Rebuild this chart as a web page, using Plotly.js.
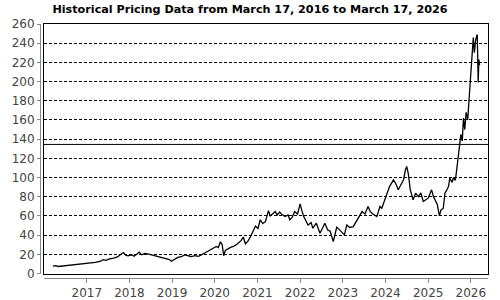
<!DOCTYPE html>
<html>
<head>
<meta charset="utf-8">
<script src="https://cdn.plot.ly/plotly-3.0.1.min.js"></script>
<style>html,body{margin:0;padding:0;background:#fff;}#chart{width:500px;height:300px;}</style>
</head>
<body>
<div id="chart"></div>
<script>
const chartTitle = "Historical Pricing Data from March 17, 2016 to March 17, 2026";

const dates = [
"2016-03-17","2016-04-10","2016-05-01","2016-06-15","2016-08-01","2016-09-15","2016-11-01","2016-12-15",
"2017-02-01","2017-03-15","2017-05-01","2017-05-20","2017-06-15","2017-07-15","2017-08-20","2017-09-20","2017-10-15","2017-11-10","2017-12-01","2017-12-20",
"2018-01-20","2018-02-10","2018-03-10","2018-03-25","2018-04-15","2018-05-15","2018-06-15","2018-07-15","2018-08-15","2018-09-15","2018-10-15","2018-11-15","2018-12-10","2018-12-26",
"2019-01-20","2019-02-20","2019-03-20","2019-04-20","2019-05-20","2019-06-15","2019-07-15","2019-08-15","2019-09-15","2019-10-15","2019-11-15","2019-12-15",
"2020-01-15","2020-02-01","2020-02-19","2020-03-05","2020-03-18","2020-04-01","2020-04-20","2020-05-20","2020-06-15","2020-07-15","2020-08-15","2020-09-01","2020-09-20","2020-10-10","2020-11-01","2020-11-25","2020-12-15",
"2021-01-05","2021-01-25","2021-02-15","2021-03-10","2021-04-05","2021-04-20","2021-05-10","2021-06-01","2021-06-20","2021-07-10","2021-07-25","2021-08-25","2021-09-20","2021-10-05","2021-10-25","2021-11-15","2021-12-10",
"2022-01-01","2022-01-15","2022-02-01","2022-03-10","2022-04-05","2022-04-20","2022-05-20","2022-06-20","2022-07-15","2022-08-01","2022-08-25","2022-09-15","2022-10-12","2022-10-25","2022-11-10","2022-12-01","2022-12-28",
"2023-01-15","2023-02-05","2023-03-01","2023-04-01","2023-04-25","2023-05-25","2023-06-15","2023-07-10","2023-08-05","2023-08-25","2023-09-15","2023-10-20","2023-11-15","2023-12-01","2023-12-28",
"2024-01-20","2024-02-05","2024-03-10","2024-04-01","2024-04-20","2024-05-20","2024-06-05","2024-06-20","2024-07-01","2024-07-15","2024-08-01","2024-08-25","2024-09-15","2024-10-10","2024-10-30","2024-11-20","2024-12-15",
"2025-01-01","2025-01-30","2025-02-15","2025-03-01","2025-03-20","2025-04-07","2025-04-20","2025-05-10","2025-05-25","2025-06-10","2025-06-25","2025-07-05","2025-07-25","2025-08-05","2025-08-20","2025-08-28","2025-09-10","2025-09-25","2025-10-08","2025-10-20","2025-10-30","2025-11-10","2025-11-22","2025-12-05","2025-12-19",
"2026-01-01","2026-01-09","2026-01-22","2026-01-31","2026-02-12","2026-02-25","2026-03-05","2026-03-11","2026-03-17"
];

const prices = [
7.6,8.1,7.3,7.9,8.6,9.0,9.5,10.3,
10.9,11.6,12.8,14.5,13.8,15.2,16.0,17.2,19.5,21.8,19.0,18.3,
19.5,18.0,20.5,22.3,19.5,20.8,20.2,19.3,18.0,17.6,16.0,15.0,14.5,12.8,
14.8,16.8,17.5,19.4,18.5,17.6,18.6,17.8,19.8,21.8,24.2,26.5,
28.2,27.0,33.0,30.0,18.5,24.0,25.5,27.5,28.6,31.0,34.5,38.0,31.0,33.5,38.0,44.0,49.5,
47.0,56.0,52.0,54.0,65.5,60.0,62.0,64.5,61.0,64.0,62.0,59.3,61.0,56.0,58.5,64.5,62.0,
72.5,66.0,59.3,50.6,53.0,47.2,52.4,42.0,48.0,52.4,45.4,44.0,33.2,40.0,48.2,46.0,42.0,
40.2,50.6,48.0,48.9,54.1,61.1,64.5,62.0,69.8,64.5,62.0,59.3,69.8,68.0,76.7,
86.0,90.6,97.6,93.0,87.2,94.2,98.0,108.0,111.5,104.0,87.2,76.7,83.7,80.0,84.0,75.0,77.5,
78.5,87.2,80.0,76.7,72.0,60.0,66.0,68.0,84.0,87.2,91.0,99.4,95.0,100.0,97.0,103.0,118.0,134.0,145.0,138.0,162.0,150.0,168.0,160.0,184.0,
200.0,222.0,246.0,230.0,244.0,249.0,199.0,223.0,217.0
];

const yearTickDates = ["2017-01-01","2018-01-01","2019-01-01","2020-01-01","2021-01-01","2022-01-01","2023-01-01","2024-01-01","2025-01-01","2026-01-01"];
const yearTickLabels = ["2017","2018","2019","2020","2021","2022","2023","2024","2025","2026"];
const referenceLevel = 134.5;

const xRange = ["2016-01-01","2026-05-28"];
const yRange = [0, 260];

const tickFont = {family: "DejaVu Sans", size: 12, color: "#444"};
const W = 500, H = 300, mL = 40, mR = 12, mT = 24, mB = 22;
const plotW = W - mL - mR, plotH = H - mT - mB;
const xd0 = 4 / plotW, yd0 = 4.5 / plotH;

const traces = [
  {x: dates, y: prices, type: "scatter", mode: "lines", xaxis: "x", yaxis: "y",
   line: {color: "#000", width: 1.3}, hoverinfo: "skip", showlegend: false},
  {x: dates, y: prices, type: "scatter", mode: "lines", xaxis: "x2", yaxis: "y2",
   line: {color: "rgba(0,0,0,0)", width: 0}, hoverinfo: "skip", showlegend: false}
];

const layout = {
  width: W, height: H,
  margin: {l: mL, r: mR, t: mT, b: mB, pad: 0},
  paper_bgcolor: "#fff", plot_bgcolor: "#fff",
  showlegend: false,
  title: {text: chartTitle, x: 0.5, xref: "container", xanchor: "center",
          y: 1 - 9/H, yref: "container", yanchor: "middle",
          font: {family: "DejaVu Sans", size: 11.2, color: "#000", weight: "bold"}},
  xaxis: {type: "date", range: xRange, domain: [xd0, 1], anchor: "y",
          showline: true, linecolor: "#000", linewidth: 1, mirror: true,
          showgrid: false, zeroline: false, showticklabels: false, ticks: ""},
  yaxis: {range: yRange, domain: [yd0, 1], anchor: "x", dtick: 20, tick0: 0,
          showline: true, linecolor: "#000", linewidth: 1, mirror: true,
          showgrid: true, gridcolor: "#000", gridwidth: 1, griddash: "3px,2px",
          zeroline: false, showticklabels: false, ticks: ""},
  xaxis2: {type: "date", range: xRange, overlaying: "x", anchor: "free", position: 0,
           tickmode: "array", tickvals: yearTickDates, ticktext: yearTickLabels,
           ticks: "outside", ticklen: 4, tickcolor: "#888", tickwidth: 1,
           showline: true, linecolor: "#888", linewidth: 1,
           showgrid: false, zeroline: false, tickfont: tickFont},
  yaxis2: {range: yRange, overlaying: "y", anchor: "free", position: 0, side: "left",
           dtick: 20, tick0: 0,
           ticks: "outside", ticklen: 3, tickcolor: "#888", tickwidth: 1,
           showline: true, linecolor: "#888", linewidth: 1,
           showgrid: false, zeroline: false, tickfont: tickFont},
  shapes: [
    {type: "line", xref: "x domain", yref: "y", x0: 0, x1: 1, y0: referenceLevel, y1: referenceLevel,
     line: {color: "#000", width: 1}}
  ]
};

Plotly.newPlot("chart", traces, layout, {staticPlot: true, displayModeBar: false});
</script>
</body>
</html>
